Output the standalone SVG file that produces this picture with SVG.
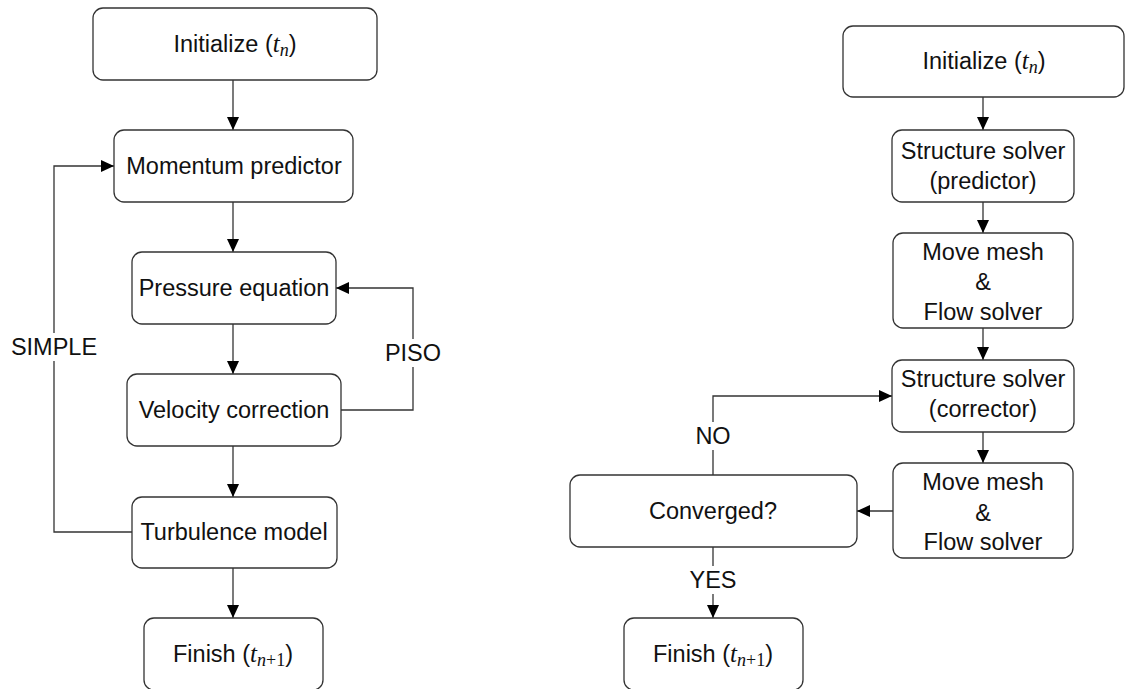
<svg xmlns="http://www.w3.org/2000/svg" width="1126" height="689" viewBox="0 0 1126 689">
<style>
.box{fill:#fff;stroke:#333;stroke-width:1.3}
.lbl{font-family:"Liberation Sans",Arial,sans-serif;font-size:23.5px;fill:#111;text-anchor:middle}
.m{font-family:"Liberation Serif","Times New Roman",serif;font-style:italic;font-size:25px}
.s{font-family:"Liberation Serif","Times New Roman",serif;font-style:italic;font-size:18px}
.u{font-family:"Liberation Serif","Times New Roman",serif;font-style:normal;font-size:18px}
.e{fill:none;stroke:#333;stroke-width:1.3}
.bg{fill:#fff;stroke:none}
</style>
<defs>
<marker id="ah" viewBox="0 0 13 12" refX="13" refY="6" markerWidth="13" markerHeight="12" markerUnits="userSpaceOnUse" orient="auto">
<path d="M0,0 L13,6 L0,12 Z" fill="#000"/>
</marker>
</defs>
<rect width="1126" height="689" fill="#fff"/>
<g id="connectors">
<path class="e" d="M233,80 V130" marker-end="url(#ah)"/>
<path class="e" d="M233,202 V252" marker-end="url(#ah)"/>
<path class="e" d="M233,324 V374" marker-end="url(#ah)"/>
<path class="e" d="M233,446 V497" marker-end="url(#ah)"/>
<path class="e" d="M233,568 V618" marker-end="url(#ah)"/>
<path class="e" d="M132,532 H54 V166 H114" marker-end="url(#ah)"/>
<path class="e" d="M341,410 H413 V288 H336" marker-end="url(#ah)"/>
<path class="e" d="M983,97 V130" marker-end="url(#ah)"/>
<path class="e" d="M983,202 V233" marker-end="url(#ah)"/>
<path class="e" d="M983,328 V360" marker-end="url(#ah)"/>
<path class="e" d="M983,432 V463" marker-end="url(#ah)"/>
<path class="e" d="M893,511 H857" marker-end="url(#ah)"/>
<path class="e" d="M713,475 V396 H892" marker-end="url(#ah)"/>
<path class="e" d="M713,547 V618" marker-end="url(#ah)"/>
<rect class="bg" x="8" y="333" width="92" height="28"/>
<text class="lbl" x="54" y="355">SIMPLE</text>
<rect class="bg" x="386" y="339" width="54" height="28"/>
<text class="lbl" x="413" y="361">PISO</text>
<rect class="bg" x="692" y="422" width="42" height="28"/>
<text class="lbl" x="713" y="444">NO</text>
<rect class="bg" x="688" y="566" width="50" height="28"/>
<text class="lbl" x="713" y="588">YES</text>
</g>
<g id="init-left">
<rect class="box" x="93" y="8" width="284" height="72" rx="10"/>
<text class="lbl" x="235" y="52">Initialize (<tspan class="m">t</tspan><tspan class="s" dy="4">n</tspan><tspan dy="-4">)</tspan></text>
</g>
<g id="momentum">
<rect class="box" x="114" y="130" width="239" height="72" rx="10"/>
<text class="lbl" x="234" y="174">Momentum predictor</text>
</g>
<g id="pressure">
<rect class="box" x="132" y="252" width="204" height="72" rx="10"/>
<text class="lbl" x="234" y="296">Pressure equation</text>
</g>
<g id="velocity">
<rect class="box" x="127" y="374" width="214" height="72" rx="10"/>
<text class="lbl" x="234" y="418">Velocity correction</text>
</g>
<g id="turbulence">
<rect class="box" x="132" y="497" width="205" height="71" rx="10"/>
<text class="lbl" x="234" y="540">Turbulence model</text>
</g>
<g id="finish-left">
<rect class="box" x="144" y="618" width="179" height="72" rx="10"/>
<text class="lbl" x="233" y="662">Finish (<tspan class="m">t</tspan><tspan class="s" dy="4">n</tspan><tspan class="u">+1</tspan><tspan dy="-4">)</tspan></text>
</g>
<g id="init-right">
<rect class="box" x="843" y="26" width="281" height="71" rx="10"/>
<text class="lbl" x="984" y="69">Initialize (<tspan class="m">t</tspan><tspan class="s" dy="4">n</tspan><tspan dy="-4">)</tspan></text>
</g>
<g id="struct-pred">
<rect class="box" x="892" y="130" width="182" height="72" rx="10"/>
<text class="lbl" x="983" y="159">Structure solver</text>
<text class="lbl" x="983" y="189">(predictor)</text>
</g>
<g id="mesh-flow-1">
<rect class="box" x="893" y="233" width="180" height="95" rx="10"/>
<text class="lbl" x="983" y="260">Move mesh</text>
<text class="lbl" x="983" y="290">&amp;</text>
<text class="lbl" x="983" y="320">Flow solver</text>
</g>
<g id="struct-corr">
<rect class="box" x="892" y="360" width="182" height="72" rx="10"/>
<text class="lbl" x="983" y="387">Structure solver</text>
<text class="lbl" x="983" y="417">(corrector)</text>
</g>
<g id="mesh-flow-2">
<rect class="box" x="893" y="463" width="180" height="95" rx="10"/>
<text class="lbl" x="983" y="490">Move mesh</text>
<text class="lbl" x="983" y="521">&amp;</text>
<text class="lbl" x="983" y="550">Flow solver</text>
</g>
<g id="converged">
<rect class="box" x="570" y="475" width="287" height="72" rx="10"/>
<text class="lbl" x="713" y="519">Converged?</text>
</g>
<g id="finish-right">
<rect class="box" x="624" y="618" width="179" height="72" rx="10"/>
<text class="lbl" x="713" y="662">Finish (<tspan class="m">t</tspan><tspan class="s" dy="4">n</tspan><tspan class="u">+1</tspan><tspan dy="-4">)</tspan></text>
</g>
</svg>
